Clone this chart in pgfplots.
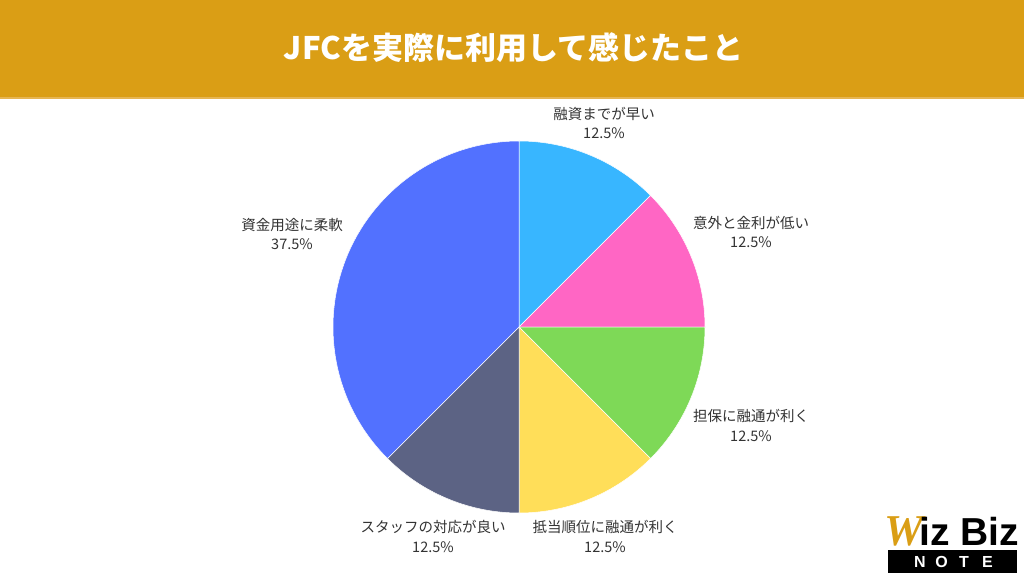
\documentclass[border=0pt]{standalone}
\usepackage{pgfplots}
\pgfplotsset{compat=1.18}
\usepackage{pgfplotstable}
\usepackage{fontspec}
\setmainfont{Noto Sans CJK JP}
\newfontfamily\logofont{Liberation Sans}
\newfontfamily\logoserif{Liberation Serif}

\definecolor{bar}{HTML}{DA9E15}
\definecolor{barline}{HTML}{E6B552}
\definecolor{txt}{HTML}{333333}
\definecolor{c0}{HTML}{38B6FF}
\definecolor{c1}{HTML}{FF66C4}
\definecolor{c2}{HTML}{7ED957}
\definecolor{c3}{HTML}{FFDE59}
\definecolor{c4}{HTML}{5C6384}
\definecolor{c5}{HTML}{5271FF}

\pgfplotstableread{
idx value
0 12.5
1 12.5
2 12.5
3 12.5
4 12.5
5 37.5
}\piedata

\begin{document}
\begin{tikzpicture}
\gdef\acc{90}
\foreach \i in {0,...,5}{
  \pgfplotstablegetelem{\i}{value}\of\piedata
  \pgfmathsetmacro\sstart{\acc}
  \pgfmathsetmacro\sstop{\acc-3.6*\pgfplotsretval}
  \expandafter\xdef\csname sA\i\endcsname{\sstart}
  \expandafter\xdef\csname sB\i\endcsname{\sstop}
  \xdef\acc{\sstop}
}
\begin{axis}[
  scale only axis, width=1024pt, height=576pt,
  xmin=0, xmax=1024, ymin=0, ymax=576,
  hide axis, clip=false,
]
% background and title bar
\fill[white] (axis cs:0,0) rectangle (axis cs:1024,576);
\fill[bar] (axis cs:0,478) rectangle (axis cs:1024,576);
\fill[barline] (axis cs:0,477) rectangle (axis cs:1024,479);
\node[white, font=\fontsize{31}{36}\selectfont\bfseries] at (axis cs:513.5,528) {JFCを実際に利用して感じたこと};

% pie slices from the table
\pgfplotsinvokeforeach{0,...,5}{
  \fill[c#1, draw=white, line width=0.5pt] (axis cs:519,249) -- ++(\csname sA#1\endcsname:186pt)
     arc[start angle=\csname sA#1\endcsname, end angle=\csname sB#1\endcsname, radius=186pt] -- cycle;
}

% labels
\tikzset{lab/.style={txt, align=center, font=\fontsize{14.5}{19.5}\selectfont}}
\node[lab] at (axis cs:604,453) {融資までが早い\\12.5\%};
\node[lab] at (axis cs:751,344) {意外と金利が低い\\12.5\%};
\node[lab] at (axis cs:751,150.5) {担保に融通が利く\\12.5\%};
\node[lab] at (axis cs:605,39.5) {抵当順位に融通が利く\\12.5\%};
\node[lab] at (axis cs:433,39.5) {スタッフの対応が良い\\12.5\%};
\node[lab] at (axis cs:292,342) {資金用途に柔軟\\37.5\%};

% logo
\node[anchor=base west, inner sep=0pt, bar, font=\fontsize{44}{44}\selectfont\logoserif\bfseries\itshape] at (axis cs:884,31) {W};
\node[anchor=base west, inner sep=0pt, black, font=\fontsize{39}{39}\selectfont\logofont\bfseries] at (axis cs:919,31) {iz Biz};
\fill[black] (axis cs:888,3) rectangle (axis cs:1017,26);
\tikzset{note/.style={white, inner sep=0pt, font=\fontsize{16}{16}\selectfont\logofont\bfseries}}
\node[note] at (axis cs:920,14.5) {N};
\node[note] at (axis cs:941.5,14.5) {O};
\node[note] at (axis cs:964,14.5) {T};
\node[note] at (axis cs:987.5,14.5) {E};
\end{axis}
\end{tikzpicture}
\end{document}
